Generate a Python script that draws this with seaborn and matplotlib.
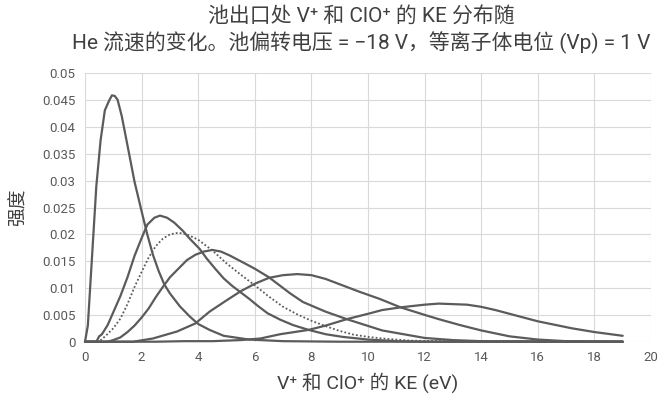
import numpy as np
import pandas as pd
import matplotlib
matplotlib.use('Agg')
import matplotlib.pyplot as plt
import seaborn as sns

# values
x1 = [0, 0.1, 0.25, 0.4, 0.55, 0.7, 0.85, 0.95, 1.05, 1.15, 1.3, 1.5, 1.75, 2.0, 2.2, 2.4, 2.6, 2.8, 3.0,
      3.35, 3.7, 4.0, 4.4, 4.9, 5.8, 7, 9, 12, 19]
y1 = [0, 0.003, 0.016, 0.029, 0.0375, 0.0431, 0.0449, 0.0459, 0.0458, 0.0451, 0.042, 0.0366, 0.0298,
      0.0243, 0.0200, 0.0162, 0.0132, 0.0107, 0.0090, 0.0066, 0.0047, 0.0033, 0.0022, 0.0011, 0.0004,
      0.0001, 0, 0, 0]

x2 = [0, 0.4, 0.5, 0.6, 0.8, 1.0, 1.25, 1.5, 1.75, 2.0, 2.2, 2.45, 2.65, 2.9, 3.15, 3.45, 3.7, 4.05,
      4.3, 4.6, 4.9, 5.2, 5.5, 5.8, 6.1, 6.45, 6.9, 7.35, 7.9, 8.5, 9.1, 10, 11, 12, 19]
y2 = [0, 0, 0.0010, 0.0014, 0.0031, 0.0055, 0.0085, 0.0120, 0.0160, 0.0193, 0.0218, 0.0231, 0.0235,
      0.0231, 0.0222, 0.0207, 0.0192, 0.0173, 0.0155, 0.0136, 0.0118, 0.0104, 0.0092, 0.0080, 0.0067,
      0.0053, 0.0041, 0.0031, 0.0022, 0.0014, 0.0009, 0.0004, 0.0001, 0, 0]

x_dot = [0, 0.5, 0.75, 1.0, 1.25, 1.5, 1.75, 2.0, 2.25, 2.5, 2.75, 3.0, 3.3, 3.6, 4.0, 4.5, 5.0,
         5.5, 6.0, 6.5, 7.0, 7.5, 8.0, 8.5, 9.0, 9.5, 10.0, 10.5, 11.5, 12.5, 19]
y_dot = [0, 0, 0.0012, 0.0025, 0.0043, 0.0070, 0.0102, 0.0130, 0.0157, 0.0178, 0.0192, 0.0200,
         0.0203, 0.0200, 0.0190, 0.0170, 0.0146, 0.0125, 0.0105, 0.0084, 0.0065, 0.0051, 0.0039,
         0.0029, 0.0020, 0.0013, 0.0009, 0.0006, 0.0002, 0.0001, 0]

x3 = [0, 0.8, 1.0, 1.25, 1.5, 1.75, 2.0, 2.25, 2.5, 2.75, 3.0, 3.3, 3.6, 3.9, 4.2, 4.5, 4.8, 5.1,
      5.5, 6.0, 6.5, 6.9, 7.25, 7.7, 8.5, 9.25, 10.5, 12, 13, 14, 19]
y3 = [0, 0, 0.0003, 0.0008, 0.0018, 0.0030, 0.0045, 0.0062, 0.0083, 0.0102, 0.0120, 0.0136, 0.0152,
      0.0162, 0.0168, 0.0171, 0.0168, 0.0161, 0.0150, 0.0136, 0.0120, 0.0104, 0.0090, 0.0074, 0.0056,
      0.0042, 0.0021, 0.0007, 0.0003, 0.0001, 0]

x4 = [0, 1.7, 2.4, 3.25, 3.9, 4.4, 5.0, 5.5, 6.0, 6.5, 7.0, 7.5, 8.0, 8.5, 9.0, 9.7, 10.4, 11.15,
      12.0, 12.5, 13.25, 14.0, 15.0, 16.0, 17.0, 19]
y4 = [0, 0, 0.0006, 0.0019, 0.0034, 0.0056, 0.0077, 0.0094, 0.0108, 0.0119, 0.0124, 0.0126, 0.0124,
      0.0117, 0.0107, 0.0093, 0.0080, 0.0064, 0.0050, 0.0042, 0.0031, 0.0021, 0.0010, 0.0004, 0.0001, 0]

x5 = [0, 2.5, 3.5, 4.5, 5.5, 6.2, 6.9, 7.9, 8.5, 9.25, 10.0, 10.5, 11.15, 12.0, 12.5, 13.0, 13.5,
      14.0, 14.5, 15.0, 16.0, 17.2, 18.0, 19.0]
y5 = [0, 0, 0.0001, 0.0001, 0.0003, 0.0006, 0.0014, 0.0022, 0.0030, 0.0042, 0.0052, 0.0059, 0.0064,
      0.0069, 0.0071, 0.0070, 0.0069, 0.0065, 0.0059, 0.0052, 0.0038, 0.0025, 0.0018, 0.0011]

x_ticks = list(range(0, 21, 2))
y_ticks = [0, 0.005, 0.01, 0.015, 0.02, 0.025, 0.03, 0.035, 0.04, 0.045, 0.05]
y_tick_labels = ['0', '0.005', '0.01', '0.015', '0.02', '0.025', '0.03', '0.035', '0.04', '0.045', '0.05']

title_text = '池出口处 V⁺ 和 ClO⁺ 的 KE 分布随\nHe 流速的变化。池偏转电压 = −18 V，等离子体电位 (Vp) = 1 V'
x_label = 'V⁺ 和 ClO⁺ 的 KE (eV)'
y_label = '强度'

sns.set_theme(style='whitegrid')
plt.rcParams['font.family'] = ['Roboto', 'Noto Sans CJK SC', 'DejaVu Sans']

fig = plt.figure(figsize=(6.6, 3.99), dpi=100)
ax = fig.add_axes([0.1288, 0.1436, 0.8576, 0.6725])

line_col = '#5b5b5b'
solid = [(x1, y1), (x2, y2), (x3, y3), (x4, y4), (x5, y5)]
for xs, ys in solid:
    df = pd.DataFrame({'x': xs, 'y': ys})
    sns.lineplot(data=df, x='x', y='y', ax=ax, color=line_col, lw=1.6, sort=False, clip_on=False)

df_dot = pd.DataFrame({'x': x_dot, 'y': y_dot})
sns.lineplot(data=df_dot, x='x', y='y', ax=ax, color=line_col, lw=1.3, sort=False,
             linestyle=(0, (1, 1.2)), clip_on=False)

ax.set_xlim(0, 20)
ax.set_ylim(0, 0.05)
ax.set_xticks(x_ticks)
ax.set_yticks(y_ticks)
ax.set_yticklabels(y_tick_labels)
ax.grid(True, color='#d9d9d9', lw=0.8)
for s in ax.spines.values():
    s.set_visible(False)
ax.tick_params(axis='both', length=0, labelsize=9.5, labelcolor='#595959', pad=7)

ax.set_xlabel(x_label, fontsize=14, color='#404040', labelpad=6)
ax.set_ylabel(y_label, fontsize=13.5, color='#404040', labelpad=10)

fig.text(0.547, 0.982, title_text, ha='center', va='top', fontsize=15, color='#404040',
         linespacing=1.25)

fig.savefig('out.png', dpi=100)
